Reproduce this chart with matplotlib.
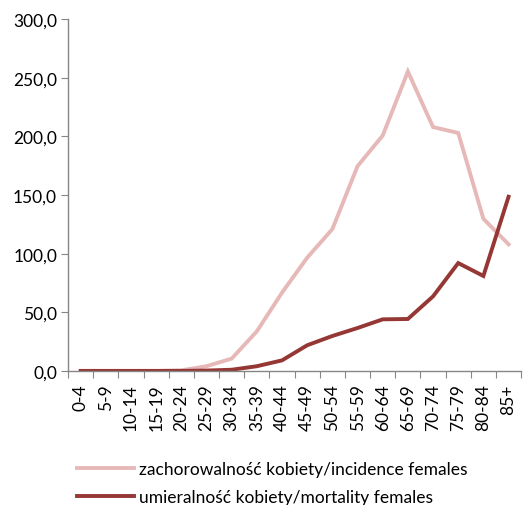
import matplotlib
matplotlib.use('Agg')
import matplotlib.pyplot as plt
import numpy as np

# Dane: grupy wieku i wspolczynniki
grupy_wieku = ["0-4", "5-9", "10-14", "15-19", "20-24", "25-29", "30-34", "35-39",
               "40-44", "45-49", "50-54", "55-59", "60-64", "65-69", "70-74",
               "75-79", "80-84", "85+"]
zachorowalnosc = [0.0, 0.0, 0.0, 0.0, 0.5, 4.0, 10.5, 33.8, 66.8, 96.6, 121.0,
                  174.7, 200.8, 255.4, 208.0, 203.0, 129.8, 108.0]
umieralnosc = [0.0, 0.0, 0.0, 0.0, 0.0, 0.3, 1.0, 4.0, 9.0, 21.9, 29.8, 36.6,
               44.0, 44.3, 63.6, 92.0, 81.0, 148.6]
y_ticks = [0, 50, 100, 150, 200, 250, 300]

plt.rcParams['font.family'] = ['Lato', 'DejaVu Sans']
fs = 12.5

fig = plt.figure(figsize=(5.28, 5.06), dpi=100)
ax = fig.add_axes([0.129, 0.265, 0.858, 0.695])

x = np.arange(len(grupy_wieku))
ax.plot(x, zachorowalnosc, color='#E6B9B8', lw=2.8, solid_joinstyle='miter',
        label='zachorowalność kobiety/incidence females')
ax.plot(x, umieralnosc, color='#953735', lw=2.8, solid_joinstyle='miter',
        label='umieralność kobiety/mortality females')

ax.set_xlim(-0.5, len(grupy_wieku) - 0.5)
ax.set_ylim(0, 300)
ax.set_yticks(y_ticks)
ax.set_yticklabels([f"{v:.1f}".replace('.', ',') for v in y_ticks], fontsize=fs)

# kreski osi X na granicach kategorii, etykiety na srodku
ax.set_xticks(np.arange(len(grupy_wieku) + 1) - 0.5)
ax.set_xticklabels([])
ax.set_xticks(x, minor=True)
ax.set_xticklabels(grupy_wieku, minor=True, rotation=90, fontsize=fs)
ax.tick_params(axis='x', which='minor', length=0, pad=9)
ax.tick_params(axis='x', which='major', length=5, color='#868686', direction='out')
ax.tick_params(axis='y', length=5, color='#868686', pad=3)

for s in ['top', 'right']:
    ax.spines[s].set_visible(False)
for s in ['left', 'bottom']:
    ax.spines[s].set_color('#868686')
    ax.spines[s].set_linewidth(1)

fig.legend(loc='upper left', bbox_to_anchor=(0.145, 0.086), frameon=False,
           fontsize=fs, handlelength=3.3, handletextpad=0.3, labelspacing=0.68,
           borderaxespad=0, borderpad=0)

plt.savefig("out.png", dpi=100)
